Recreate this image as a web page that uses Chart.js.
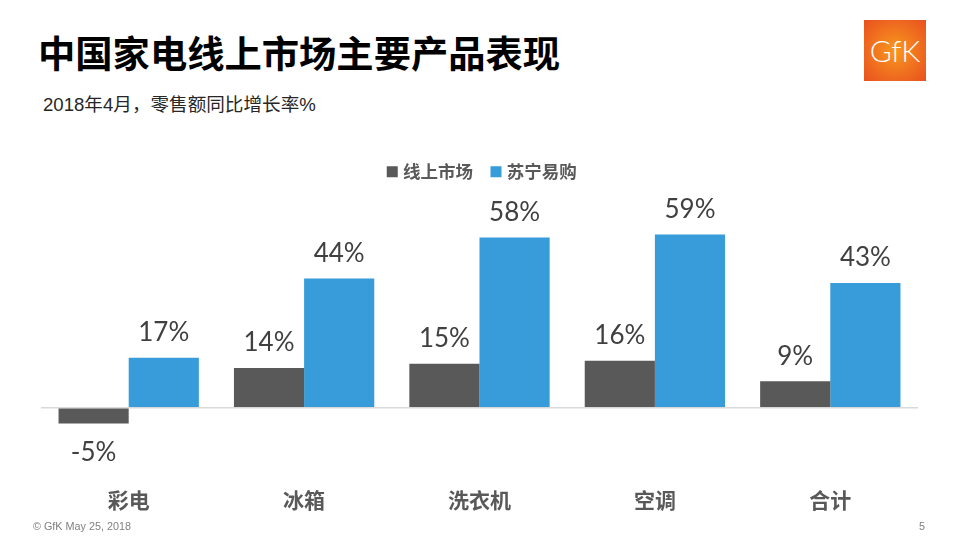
<!DOCTYPE html>
<html lang="zh">
<head>
<meta charset="utf-8">
<script src="https://cdn.jsdelivr.net/npm/chart.js@4"></script>
<style>
  html, body { margin: 0; padding: 0; background: #fff; }
  body { width: 959px; height: 539px; position: relative; overflow: hidden; font-family: "Noto Sans CJK SC", sans-serif; }
  .main_title { position: absolute; left: 38px; top: 25px; font-size: 37.3px; line-height: 54px; font-weight: 700; color: #000; white-space: nowrap; }
  .sub_title { position: absolute; left: 43px; top: 92px; font-size: 18.6px; line-height: 26px; color: #262626; white-space: nowrap; font-family: "Liberation Sans", "Noto Sans CJK SC", sans-serif; }
  .logo { position: absolute; left: 864px; top: 20px; width: 62px; height: 61px; background: radial-gradient(circle at 50% 50%, #f8981d 0%, #f0701f 55%, #e8501f 100%); color: #fff; font-family: Lato, sans-serif; font-weight: 300; font-size: 30px; line-height: 61px; text-align: center; }
  .copyright { position: absolute; left: 33px; top: 519px; font-size: 10.8px; line-height: 14px; color: #7f7f7f; font-family: "Liberation Sans", sans-serif; }
  .page_num { position: absolute; left: 919px; top: 519px; font-size: 10.8px; line-height: 14px; color: #7f7f7f; font-family: "Liberation Sans", sans-serif; }
  #myChart { position: absolute; left: 0; top: 142px; }
</style>
</head>
<body>
<div class="main_title">中国家电线上市场主要产品表现</div>
<div class="sub_title">2018年4月，零售额同比增长率%</div>
<div class="logo">GfK</div>
<canvas id="myChart" width="959" height="383"></canvas>
<div class="copyright">© GfK May 25, 2018</div>
<div class="page_num">5</div>
<script>
const categories = ["彩电", "冰箱", "洗衣机", "空调", "合计"];
const marketName = "线上市场";
const suningName = "苏宁易购";
const marketValues = [-5.4, 13.5, 15, 16, 9];
const suningValues = [17, 44, 58, 59, 42.5];
const marketLabels = ["-5%", "14%", "15%", "16%", "9%"];
const suningLabels = ["17%", "44%", "58%", "59%", "43%"];

const barLabels = {
  id: 'barLabels',
  afterLayout(chart) {
    // legend sits a little right of centre in the original
    chart.legend.left += 4;
    chart.legend.right += 4;
  },
  afterDatasetsDraw(chart) {
    const ctx = chart.ctx;
    const texts = [marketLabels, suningLabels];
    ctx.save();
    ctx.font = '26px Lato';
    ctx.fillStyle = '#404040';
    ctx.textAlign = 'center';
    ctx.textBaseline = 'middle';
    chart.data.datasets.forEach((dataset, i) => {
      chart.getDatasetMeta(i).data.forEach((bar, j) => {
        const offset = dataset.data[j] < 0 ? 29 : -25;
        ctx.fillText(texts[i][j], bar.x, bar.y + offset);
      });
    });
    ctx.restore();
  }
};

new Chart(document.getElementById('myChart').getContext('2d'), {
  type: 'bar',
  data: {
    labels: categories,
    datasets: [
      { label: marketName, data: marketValues, backgroundColor: '#595959' },
      { label: suningName, data: suningValues, backgroundColor: '#379cd9' }
    ]
  },
  options: {
    responsive: false,
    animation: false,
    layout: { padding: { left: 41, right: 41, top: 0, bottom: 0 } },
    datasets: { bar: { barPercentage: 1, categoryPercentage: 0.8 } },
    scales: {
      x: {
        border: { display: false },
        grid: { display: false },
        ticks: {
          color: '#595959',
          padding: 12,
          font: { family: '"Noto Sans CJK SC"', size: 21, weight: 'bold' }
        }
      },
      y: {
        min: -20.5,
        max: 74,
        border: { display: false },
        ticks: { display: false, stepSize: 10 },
        grid: {
          drawTicks: false,
          lineWidth: 1.5,
          color: c => c.tick.value === 0 ? '#d9d9d9' : 'rgba(0,0,0,0)'
        }
      }
    },
    plugins: {
      tooltip: { enabled: false },
      legend: {
        position: 'top',
        labels: {
          color: '#595959',
          usePointStyle: true,
          pointStyle: 'rect',
          boxWidth: 4,
          boxHeight: 11,
          padding: 21,
          font: { family: '"Noto Sans CJK SC"', size: 17.5, weight: 'bold' }
        }
      }
    }
  },
  plugins: [barLabels]
});
</script>
</body>
</html>
